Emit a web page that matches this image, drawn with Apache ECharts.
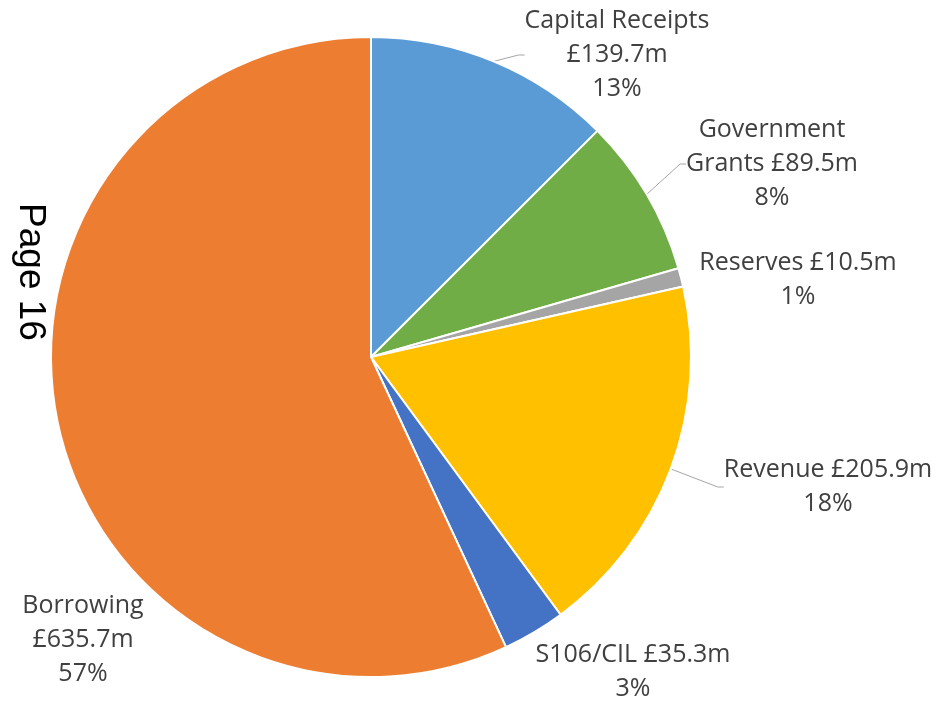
<!DOCTYPE html>
<html>
<head>
<meta charset="utf-8">
<script src="https://cdn.jsdelivr.net/npm/echarts@6/dist/echarts.min.js"></script>
<style>
  html, body { margin: 0; padding: 0; background: #ffffff; }
  #chart { width: 938px; height: 703px; }
</style>
</head>
<body>
<div id="chart"></div>
<script>
// Capital programme funding sources (£m)
const categories = ['Capital Receipts', 'Government Grants', 'Reserves', 'Revenue', 'S106/CIL', 'Borrowing'];
const values = [139.7, 89.5, 10.5, 205.9, 35.3, 635.7];

const colors = ['#5B9BD5', '#70AD47', '#A5A5A5', '#FFC000', '#4472C4', '#ED7D31'];

// Label text layout: how each label wraps
const labelWrap = [
  (n, v, p) => 'Capital Receipts\n£' + v + 'm\n' + p + '%',
  (n, v, p) => 'Government\nGrants £' + v + 'm\n' + p + '%',
  (n, v, p) => n + ' £' + v + 'm\n' + p + '%',
  (n, v, p) => n + ' £' + v + 'm\n' + p + '%',
  (n, v, p) => n + ' £' + v + 'm\n' + p + '%',
  (n, v, p) => n + '\n£' + v + 'm\n' + p + '%'
];
// Label anchor centres (px) and whether a leader line is drawn
const labelAnchors = [[617, 55], [772, 164], [798, 280], [828, 487], [633, 672], [83, 640]];
const showLeader = [true, true, false, true, false, false];

const chart = echarts.init(document.getElementById('chart'), null, { renderer: 'canvas' });

chart.setOption({
  backgroundColor: '#ffffff',
  animation: false,
  graphic: [{
    type: 'text',
    x: 30, y: 272,
    rotation: -Math.PI / 2,
    style: {
      text: 'Page 16',
      font: '37px "Liberation Sans", Arial, sans-serif',
      fill: '#000000',
      align: 'center',
      verticalAlign: 'middle'
    }
  }],
  series: [{
    type: 'pie',
    center: [371, 357],
    radius: 320,
    startAngle: 90,
    clockwise: true,
    percentPrecision: 0,
    avoidLabelOverlap: false,
    itemStyle: { borderColor: '#ffffff', borderWidth: 2 },
    label: {
      show: true,
      formatter: (p) => labelWrap[p.dataIndex](p.name, p.value.toFixed(1), p.percent),
      fontFamily: '"Open Sans", sans-serif',
      fontSize: 25,
      lineHeight: 34,
      color: '#404040',
      align: 'center',
      overflow: 'none'
    },
    labelLine: {
      show: true,
      length: 12,
      length2: 6,
      lineStyle: { color: '#A6A6A6', width: 1 }
    },
    labelLayout: (params) => {
      const a = labelAnchors[params.dataIndex];
      return { x: a[0], y: a[1], align: 'center', verticalAlign: 'middle' };
    },
    emphasis: { disabled: true },
    data: categories.map((c, i) => ({
      name: c,
      value: values[i],
      itemStyle: { color: colors[i] },
      labelLine: { show: showLeader[i] }
    }))
  }]
});
</script>
</body>
</html>
